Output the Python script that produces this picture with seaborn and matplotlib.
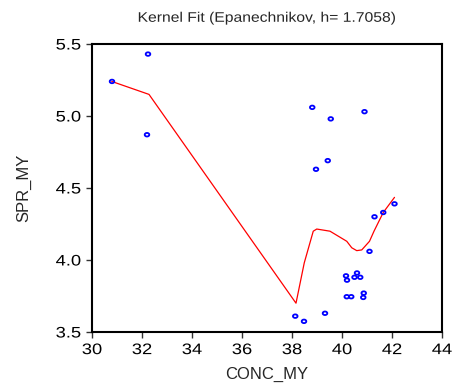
import matplotlib
matplotlib.use("Agg")
import matplotlib.pyplot as plt
import seaborn as sns
import pandas as pd
from matplotlib.patheffects import AbstractPathEffect
from matplotlib.transforms import Affine2D
from matplotlib.path import Path

conc_my = [30.8, 32.24, 32.2, 38.81, 39.55, 40.9, 39.43, 38.96, 42.1, 41.65, 41.3,
           41.1, 40.16, 40.2, 40.6, 40.5, 40.73, 40.19, 40.37, 40.87, 40.85, 39.32,
           38.13, 38.48]
spr_my = [5.24, 5.43, 4.87, 5.06, 4.98, 5.03, 4.69, 4.63, 4.39, 4.33, 4.30,
          4.06, 3.89, 3.86, 3.91, 3.88, 3.88, 3.745, 3.745, 3.77, 3.74, 3.63,
          3.61, 3.574]

fit_x = [30.79, 32.28, 38.16, 38.49, 38.85, 38.99, 39.52, 40.19, 40.39, 40.59,
         40.79, 41.1, 41.28, 41.65, 42.1]
fit_y = [5.24, 5.15, 3.70, 3.98, 4.20, 4.215, 4.20, 4.13, 4.085, 4.065,
         4.07, 4.13, 4.20, 4.33, 4.435]

x_ticks = [30, 32, 34, 36, 38, 40, 42, 44]
y_ticks = [3.5, 4.0, 4.5, 5.0, 5.5]
y_tick_labels = ["3.5", "4.0", "4.5", "5.0", "5.5"]


class HStretch(AbstractPathEffect):
    """Stretch text horizontally (the reference image is slightly widened)."""
    def __init__(self, sx, anchor="center"):
        super().__init__()
        self.sx = sx
        self.anchor = anchor

    def draw_path(self, renderer, gc, tpath, affine, rgbFace=None):
        ext = tpath.get_extents(affine)
        if self.anchor == "right":
            cx = ext.x1
        else:
            cx = 0.5 * (ext.x0 + ext.x1)
        t = affine + Affine2D().translate(-cx, 0).scale(self.sx, 1).translate(cx, 0)
        renderer.draw_path(gc, tpath, t, rgbFace)


sns.set_style("white")
plt.rcParams['font.family'] = ['Liberation Sans', 'DejaVu Sans']

fig = plt.figure(figsize=(4.53, 3.92), dpi=100)
ax = fig.add_axes([92/453, 1-332/392, 350/453, 288/392])

pts = pd.DataFrame({"CONC_MY": conc_my, "SPR_MY": spr_my})
fit = pd.DataFrame({"x": fit_x, "y": fit_y})

ellipse = Path.unit_circle().transformed(Affine2D().scale(1.3, 1.0))

sns.lineplot(data=fit, x="x", y="y", sort=False, color="#ff0000", linewidth=0.9, ax=ax, zorder=2)
sns.scatterplot(data=pts, x="CONC_MY", y="SPR_MY", ax=ax, s=11, marker=ellipse,
                facecolor="none", edgecolor="#0000ff", linewidth=1.3, zorder=3)

ax.set_xlim(30, 44)
ax.set_ylim(3.5, 5.5)
ax.set_xticks(x_ticks)
ax.set_xticklabels([str(t) for t in x_ticks])
ax.set_yticks(y_ticks)
ax.set_yticklabels(y_tick_labels)
ax.tick_params(axis="both", direction="out", length=4.5, width=1, colors="#333333",
               labelsize=11, labelcolor="black", bottom=True, left=True, pad=3.5)
for sp in ax.spines.values():
    sp.set_color("black")
    sp.set_linewidth(1.5)

for t in ax.xaxis.get_major_ticks():
    t.label1.set_path_effects([HStretch(1.2, "center")])
for t in ax.yaxis.get_major_ticks():
    t.label1.set_path_effects([HStretch(1.2, "right")])

ax.set_xlabel("CONC_MY", fontsize=12)
ax.xaxis.set_label_coords(0.5, (332 - 367) / 288)
ax.set_ylabel("SPR_MY", fontsize=12)
ax.yaxis.set_label_coords((31 - 92) / 350, 0.5)
ax.set_title("Kernel Fit (Epanechnikov, h= 1.7058)", fontsize=10, pad=16,
             path_effects=[HStretch(1.13, "center")])

fig.savefig("out.png", dpi=100)
